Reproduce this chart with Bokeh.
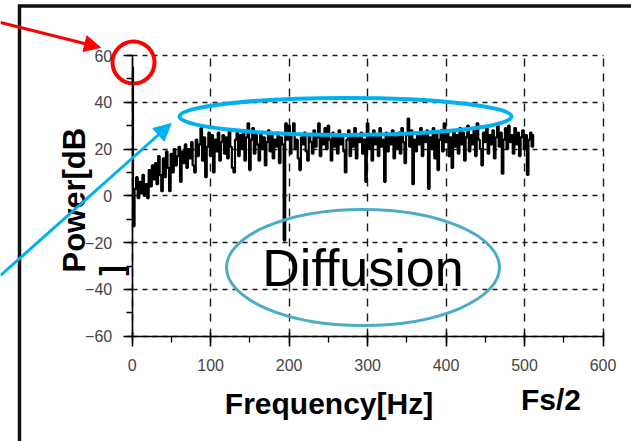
import math
from bokeh.plotting import figure
from bokeh.models import Range1d, LinearAxis, Grid, FixedTicker, Arrow, NormalHead
from bokeh.core.properties import value
from bokeh.embed import file_html
from bokeh.resources import INLINE

# ---------------- data ----------------
freq_hz = list(range(0, 513, 2))
power_db = [
    55, -13, 3, 8, -1,
    6, 1, 9, 0, 5,
    -1, 11, 4, 13, 7,
    14, 5, 17, 9, 2,
    16, 8, 19, 12, 2,
    18, 10, 20, 13, 17,
    21, 6, 19, 14, 22,
    12, 20, 16, 23, 13,
    10, 24, 17, 22, 29,
    15, 25, 8, 21, 27,
    17, 26, 10, 24, 19,
    27, 15, 23, 26, 18,
    25, 16, 28, 21, 12,
    10, 24, 27, 17, 26,
    20, 28, 15, 25, 31,
    11, 24, 29, 18, 26,
    22, 15, 27, 20, 25,
    13, 23, 28, 19, 26,
    16, 24, 21, 27, 14,
    25, 22, -19, 31, 24,
    30, 18, 26, 31, 20,
    24, 16, 11, 25, 22,
    27, 19, 15, 26, 23,
    18, 28, 21, 25, 31,
    17, 26, 22, 29, 20,
    30, 24, 15, 27, 21,
    25, 18, 28, 22, 26,
    19, 10, 24, 28, 17,
    26, 21, 29, 16, 25,
    23, 27, 18, 24, 6,
    31, 20, 26, 15, 28,
    22, 25, 17, 29, 21,
    24, 6, 27, 19, 26,
    22, 28, 16, 25, 20,
    27, 18, 29, 23, 14,
    26, 33, 21, 28, 5,
    24, 19, 27, 22, 29,
    17, 26, 23, 28, 3,
    25, 20, 29, 16, 27,
    11, 24, 28, 19, 31,
    23, 27, 17, 25, 12,
    28, 21, 26, 18, 29,
    22, 27, 15, 25, 30,
    19, 26, 22, 28, 17,
    31, 24, 20, 13, 27,
    23, 29, 18, 26, 22,
    28, 16, 25, 30, 21,
    27, 9.5, 24, 29, 20,
    30, 23, 26, 18, 29,
    22, 27, 17, 25, 28,
    20, 26, 9, 24, 27,
    21, 26,
]
x_ticks = [0, 100, 200, 300, 400, 500, 600]
x_minor = [0, 50, 100, 150, 200, 250, 300, 350, 400, 450, 500, 550, 600]
y_ticks = [-60, -40, -20, 0, 20, 40, 60]
y_minor = [-60, -50, -40, -30, -20, -10, 0, 10, 20, 30, 40, 50, 60]
x_title = "Frequency[Hz]"
y_title_1 = "Power[dB"
y_title_2 = "]"
nyquist_label = "Fs/2"
callout_text = "Diffusion"

# ---------------- geometry ----------------
W, H = 631, 441
FX0, FX1 = 131.7, 602.5   # pixel column of 0 Hz and 600 Hz
FY0, FY1 = 335.7, 55.0    # pixel row of -60 dB and 60 dB
sx = (FX1 - FX0) / 600.0
sy = (FY0 - FY1) / 120.0
X_LO = -FX0 / sx
X_HI = (W - FX0) / sx
Y_HI = 60 + FY1 / sy
Y_LO = -60 - (H - FY0) / sy


def dx(px):
    return X_LO + px / sx


def dy(py):
    return Y_HI - py / sy


FONT = value("Liberation Sans")

p = figure(width=W, height=H, x_range=Range1d(X_LO, X_HI), y_range=Range1d(Y_LO, Y_HI),
           x_axis_type=None, y_axis_type=None, toolbar_location=None,
           output_backend="svg", min_border=0, outline_line_color=None,
           background_fill_color="white", border_fill_color="white")

# grids (dashed, also forming the top/right box)
xgrid = Grid(dimension=0, ticker=FixedTicker(ticks=x_ticks), bounds=(0, 600), cross_bounds=(-60, 60),
             grid_line_color="#1a1a1a", grid_line_width=1.4, grid_line_dash="8 7")
ygrid = Grid(dimension=1, ticker=FixedTicker(ticks=y_ticks), bounds=(-60, 60), cross_bounds=(0, 600),
             grid_line_color="#1a1a1a", grid_line_width=1.4, grid_line_dash="5 5")
p.add_layout(xgrid)
p.add_layout(ygrid)

# axes
common = dict(axis_line_color="black", axis_line_width=1.6,
              major_tick_line_color="black", major_tick_line_width=1.6,
              minor_tick_line_color="black", minor_tick_line_width=1.3,
              major_label_text_font="Liberation Sans", major_label_text_font_size="16px",
              major_label_text_color="#454545")
xaxis = LinearAxis(ticker=FixedTicker(ticks=x_ticks, minor_ticks=x_minor), fixed_location=-60,
                   bounds=(0, 600), major_tick_in=4, major_tick_out=10, minor_tick_in=0,
                   minor_tick_out=6, major_label_standoff=13, **common)
yaxis = LinearAxis(ticker=FixedTicker(ticks=y_ticks, minor_ticks=y_minor), fixed_location=0,
                   bounds=(-60, 60), major_tick_in=0, major_tick_out=9, minor_tick_in=0,
                   minor_tick_out=6, major_label_standoff=11, **common)
p.add_layout(xaxis, "below")
p.add_layout(yaxis, "left")

# spectrum (blocky, as drawn in the original)
p.step(freq_hz, power_db, mode="center", line_color="black", line_width=2.2)

# callouts
p.ellipse(x=[dx(345)], y=[dy(116)], width=[332], height=[37], width_units="screen",
          height_units="screen", fill_color=None, line_color="#00B0F0", line_width=4)
p.ellipse(x=[dx(362.5)], y=[dy(267)], width=[273], height=[116], width_units="screen",
          height_units="screen", fill_color=None, line_color="#4BACC6", line_width=3)
p.ellipse(x=[dx(133)], y=[dy(62)], width=[42], height=[42], width_units="screen",
          height_units="screen", fill_color=None, line_color="#FF0000", line_width=4)

p.add_layout(Arrow(end=NormalHead(size=16, fill_color="#FF0000", line_color="#FF0000"),
                   x_start=dx(0), y_start=dy(22), x_end=dx(100), y_end=dy(47),
                   line_color="#FF0000", line_width=3))
p.add_layout(Arrow(end=NormalHead(size=17, fill_color="#00B0F0", line_color="#00B0F0"),
                   x_start=dx(0), y_start=dy(275), x_end=dx(170.7), y_end=dy(123),
                   line_color="#00B0F0", line_width=3))

# slide frame
p.line(x=[dx(19), dx(19), dx(631)], y=[dy(441), dy(5.5), dy(5.5)], line_color="#111111",
       line_width=3.5, line_join="miter")

# texts (baseline positions corrected for the renderer's offset)
p.text(x=[dx(328.5)], y=[dy(403)], text=[x_title], text_font=FONT, text_font_style="bold",
       text_font_size="30px", text_align="center", text_baseline="alphabetic", text_color="black")
p.text(x=[dx(550.5)], y=[dy(399)], text=[nyquist_label], text_font=FONT, text_font_style="bold",
       text_font_size="30px", text_align="center", text_baseline="alphabetic", text_color="black")
p.text(x=[dx(73.6)], y=[dy(272)], text=[y_title_1], angle=math.pi / 2, text_font=FONT,
       text_font_style="bold", text_font_size="31px", text_align="left",
       text_baseline="alphabetic", text_color="black")
p.text(x=[dx(110.6)], y=[dy(275)], text=[y_title_2], angle=math.pi / 2, text_font=FONT,
       text_font_style="bold", text_font_size="31px", text_align="left",
       text_baseline="alphabetic", text_color="black")
p.text(x=[dx(362.5)], y=[dy(267)], text=[callout_text], text_font=FONT, text_font_style="normal",
       text_font_size="52px", text_align="center", text_baseline="alphabetic", text_color="black")

open("out.html", "w").write(file_html(p, INLINE))
